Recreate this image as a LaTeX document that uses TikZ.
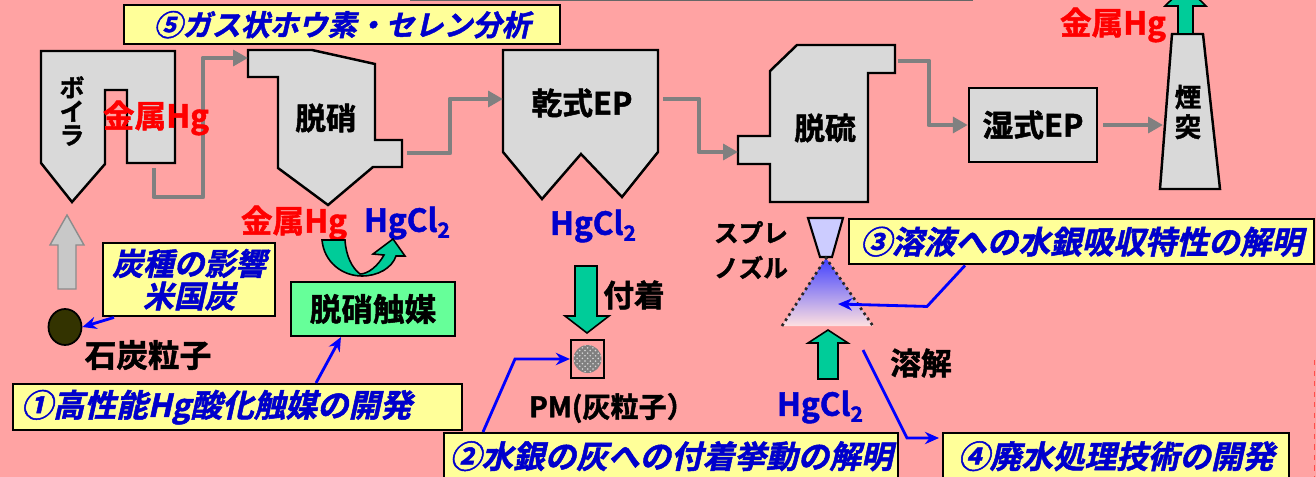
\documentclass[tikz,border=0pt]{standalone}
\usepackage{fontspec}
\newfontfamily\jpb{Noto Sans CJK JP Bold}[FakeBold=1.6]
\newfontfamily\jpi{Noto Sans CJK JP Bold}[FakeSlant=0.22, FakeBold=1.6]
\usetikzlibrary{arrows.meta, positioning, calc, patterns, shapes.geometric}

\definecolor{plantbg}{RGB}{255,163,163}
\definecolor{unitgray}{RGB}{217,217,217}
\definecolor{fluegray}{RGB}{128,128,128}
\definecolor{feedgray}{RGB}{200,200,200}
\definecolor{memoyellow}{RGB}{255,255,153}
\definecolor{memoblue}{RGB}{0,0,204}
\definecolor{hgred}{RGB}{255,0,0}
\definecolor{flowgreen}{RGB}{0,204,153}
\definecolor{catgreen}{RGB}{102,255,153}
\definecolor{coalbrown}{RGB}{51,51,0}
\definecolor{nozzleblue}{RGB}{204,204,255}

\newcommand{\hgcl}{HgCl\raisebox{-0.35ex}{\fontsize{12}{12}\selectfont 2}}

\begin{document}
\begin{tikzpicture}[
    x=0.02cm, y=-0.02cm,
    unit/.style={draw, line width=1.4pt, fill=unitgray},
    unitlabel/.style={font=\jpb\fontsize{17.5}{19}\selectfont, align=center, inner sep=0pt},
    hglabel/.style={font=\jpb\fontsize{18}{19}\selectfont, text=hgred, inner sep=0pt},
    cllabel/.style={font=\jpb\fontsize{18}{19}\selectfont, text=memoblue, inner sep=0pt},
    goal/.style={draw, line width=1.4pt, fill=memoyellow, text=memoblue, font=\jpi\fontsize{18}{19}\selectfont, inner sep=0pt, anchor=north west},
    flue/.style={draw=fluegray, line width=2.8pt, line join=round, -{Triangle[length=8.5pt, width=9pt]}},
    pointer/.style={draw=blue, line width=1.6pt, -{Stealth[length=8pt, width=7pt]}},
    flowarrow/.style={draw, line width=0.9pt, fill=flowgreen}
]

% Canvas
\useasboundingbox (0,0) rectangle (1316,477);
\clip (0,0) rectangle (1316,477);
\fill[plantbg] (0,0) rectangle (1316,477);
\draw[black!60, line width=0.6pt] (410,0.5) -- (973,0.5);
\draw[red!70, dashed, line width=0.6pt] (1314.5,360) -- (1314.5,477);

% Flue gas line
\draw[unit] (41,51) -- (175,51) -- (175,163) -- (127,163) -- (127,90) -- (105,90)
    -- (105,164) -- (72,202) -- (41,163) -- cycle;
\node[unitlabel, font=\jpb\fontsize{14}{13.5}\selectfont] (boiler) at (72,111) {ボ\\イ\\ラ};

\draw[unit] (248,50) -- (312,50) -- (375,64) -- (375,140) -- (402,140) -- (402,167)
    -- (373,167) -- (328,205) -- (278,168) -- (278,77) -- (248,77) -- cycle;
\node[unitlabel] (denox) at (326,118) {脱硝};

\draw[unit] (503,50) -- (658,50) -- (658,152) -- (622,197) -- (581,154) -- (542,199)
    -- (503,152) -- cycle;
\node[unitlabel] (dryep) at (582,103) {乾式EP};

\draw[unit] (738,136) -- (770,136) -- (770,71) -- (797,45) -- (895,45) -- (895,73)
    -- (868,73) -- (868,202) -- (770,202) -- (770,164) -- (738,164) -- cycle;
\node[unitlabel] (desox) at (825,128) {脱硫};

\node[unit, unitlabel, minimum width=2.56cm, minimum height=1.48cm] (wetep) at (1033,125) {湿式EP};

\draw[unit] (1172,34) -- (1203,34) -- (1220,189) -- (1160,189) -- cycle;
\node[unitlabel, font=\jpb\fontsize{15}{17}\selectfont] (stack) at (1188,112) {煙\\突};

\coordinate (boiler-out) at (154,168);
\coordinate (denox-in) at (248,58);
\coordinate (denox-out) at (407,153);
\coordinate (dryep-in) at (503,99);
\coordinate (dryep-out) at (663,99);
\coordinate (desox-in) at (738,152);
\coordinate (desox-out) at (898,61);
\coordinate (stack-in) at (1163,125);

\draw[flue] (boiler-out) -- ++(0,29) -- ++(49,0) |- (denox-in);
\draw[flue] (denox-out) -- ++(43,0) |- (dryep-in);
\draw[flue] (dryep-out) -- ++(36,0) |- (desox-in);
\draw[flue] (desox-out) -- ++(31,0) |- (wetep.west);
\draw[flue] ([xshift=3pt]wetep.east) -- (stack-in);

% Mercury species
\node[hglabel] (hg-boiler) at (156,118) {金属Hg};
\node[hglabel] (hg-stack) at (1113,25) {金属Hg};
\draw[flowarrow] (1178,34) -- (1178,6) -- (1165,6) -- (1185.5,-14) -- (1206,6) -- (1193,6) -- (1193,34) -- cycle;

\node[hglabel] (hg-denox) at (294,223) {金属Hg};
\node[cllabel] (cl-denox) at (407,223) {\hgcl};
\draw[flowarrow] (322,240) .. controls (324,262) and (342,276) .. (362,276)
    .. controls (378,276) and (392,268) .. (396,256) -- (405,256) -- (393,239)
    -- (373,254) -- (384,255) .. controls (378,266) and (368,274) .. (360,274)
    .. controls (352,268) and (346,256) .. (345,240) -- cycle;
\node[draw, line width=1.2pt, fill=catgreen, font=\jpb\fontsize{18}{19}\selectfont,
    minimum width=3.28cm, minimum height=1.08cm, inner sep=0pt] (catalyst) at (373,309) {脱硝触媒};

% Coal
\draw[draw=black!45, fill=feedgray, line width=0.8pt] (58,289) -- (58,245) -- (50,245) -- (67,215)
    -- (84,245) -- (76,245) -- (76,289) -- cycle;
\node[ellipse, draw, line width=1pt, fill=coalbrown, minimum width=0.66cm, minimum height=0.72cm, inner sep=0pt] (coal) at (65,327) {};
\node[unitlabel, font=\jpb\fontsize{18}{19}\selectfont] (coal-name) at (148,355) {石炭粒子};

% Ash
\node[cllabel] (cl-dryep) at (593,226) {\hgcl};
\draw[flowarrow] (575,266) -- (597,266) -- (597,316) -- (609,316) -- (587,333) -- (565,316)
    -- (575,316) -- cycle;
\node[unitlabel] (adhesion) at (634,295) {付着};
\node[draw, line width=1.2pt, minimum width=0.66cm, minimum height=0.76cm, inner sep=0pt] (pm) at (587.5,359) {};
\fill[black!50] (pm.center) circle[radius=14];
\fill[pattern=crosshatch dots, pattern color=white!85!black] (pm.center) circle[radius=14];
\node[unitlabel, font=\jpb\fontsize{16}{17}\selectfont] (pm-name) at (612,408) {PM(灰粒子）};

% Scrubber spray
\draw[line width=1.2pt, fill=nozzleblue] (808,218) -- (843,218) -- (832,257) -- (820,257) -- cycle;
\shade[top color=blue!75!white, bottom color=red!12!white] (826,258) -- (873,326) -- (782,326) -- cycle;
\draw[dotted, line width=1.5pt, black!85] (782,326) -- (826,258) -- (873,326);
\node[unitlabel, font=\jpb\fontsize{14}{20}\selectfont] (nozzle) at (751,250) {スプレ\\ノズル};
\draw[flowarrow] (818,379) -- (818,343) -- (808,343) -- (828,330) -- (848,343) -- (838,343)
    -- (838,379) -- cycle;
\node[cllabel] (cl-spray) at (820,407) {\hgcl};
\node[unitlabel] (dissolve) at (921,363) {溶解};
\coordinate (mist) at (838,304);
\coordinate (drain) at (863,350);

% Research items
\node[goal, font=\jpi\fontsize{16.5}{18}\selectfont, minimum width=8.72cm, minimum height=0.78cm] (goal5) at (123,4) {⑤ガス状ホウ素・セレン分析};
\node[goal, align=center, font=\jpi\fontsize{17.5}{18.5}\selectfont, minimum width=3.44cm, minimum height=1.46cm] (coalbox) at (102,242) {炭種の影響\\米国炭};
\node[goal, minimum width=8.98cm, minimum height=0.92cm, text width=8.66cm, align=left] (goal1) at (12,383) {①高性能Hg酸化触媒の開発};
\node[goal, minimum width=9.08cm, minimum height=0.92cm] (goal2) at (443,432) {②水銀の灰への付着挙動の解明};
\node[goal, minimum width=9.3cm, minimum height=0.9cm] (goal3) at (848,218) {③溶液への水銀吸収特性の解明};
\node[goal, minimum width=6.92cm, minimum height=0.92cm] (goal4) at (942,432) {④廃水処理技術の開発};

\draw[pointer] ($(coalbox.south west)+(12,0)$) -- (coal.east);
\draw[pointer] ($(goal1.north west)+(304,0)$) -- ($(catalyst.south west)+(51,0)$);
\draw[pointer] ($(goal2.north west)+(40,0)$) -- ++(32,-73) -- (pm.west);
\draw[pointer] ($(goal3.south west)+(117,0)$) -- ++(-38,41) -- (mist);
\draw[pointer] (drain) -- ++(44,88) -- ($(goal4.north west)+(-3,6)$);

\end{tikzpicture}
\end{document}
